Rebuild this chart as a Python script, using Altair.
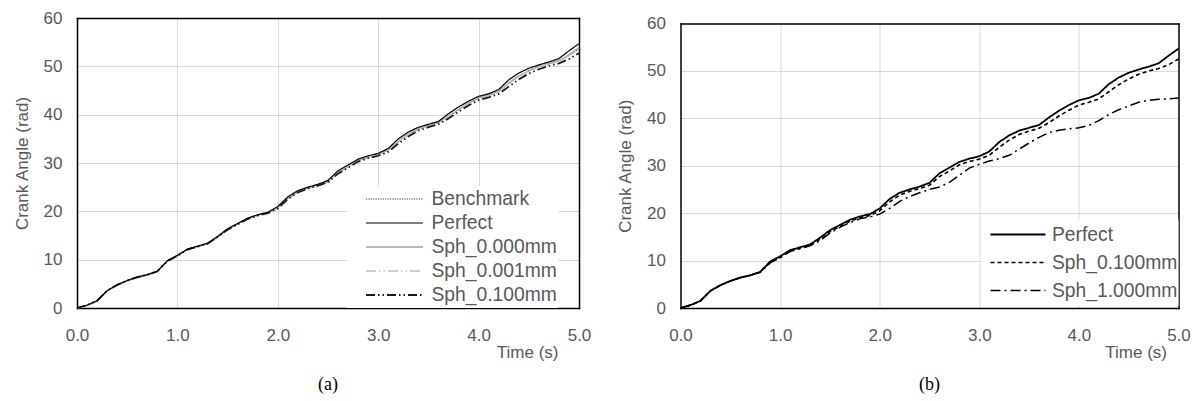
import altair as alt
import pandas as pd

FONT = "Liberation Sans"

time_s = [0.0, 0.1, 0.2, 0.3, 0.4, 0.5, 0.6, 0.7, 0.8, 0.9,
          1.0, 1.1, 1.2, 1.3, 1.4, 1.5, 1.6, 1.7, 1.8, 1.9,
          2.0, 2.1, 2.2, 2.3, 2.4, 2.5, 2.6, 2.7, 2.8, 2.9,
          3.0, 3.1, 3.2, 3.3, 3.4, 3.5, 3.6, 3.7, 3.8, 3.9,
          4.0, 4.1, 4.2, 4.3, 4.4, 4.5, 4.6, 4.7, 4.8, 4.9, 5.0]

perfect = [0, 0.6, 1.5, 3.6, 4.8, 5.7, 6.4, 6.9, 7.6, 9.8,
           10.9, 12.2, 12.8, 13.4, 14.8, 16.4, 17.5, 18.6, 19.3, 19.8,
           21.0, 23.0, 24.3, 25.0, 25.6, 26.4, 28.4, 29.6, 30.8, 31.5,
           32.0, 33.0, 35.0, 36.4, 37.4, 38.0, 38.6, 40.2, 41.6, 42.8,
           43.8, 44.3, 45.2, 47.2, 48.6, 49.6, 50.3, 50.9, 51.6, 53.2, 54.7]

benchmark = [0, 0.5, 1.4, 3.5, 4.7, 5.6, 6.3, 6.8, 7.5, 9.6,
             10.8, 12.0, 12.7, 13.3, 14.6, 16.2, 17.3, 18.5, 19.2, 19.7,
             20.7, 22.6, 24.0, 24.8, 25.4, 26.1, 28.0, 29.2, 30.5, 31.2,
             31.8, 32.6, 34.4, 35.9, 37.0, 37.7, 38.3, 39.6, 41.0, 42.3,
             43.4, 44.0, 44.7, 46.4, 47.9, 49.0, 49.9, 50.5, 51.1, 52.2, 53.6]

sph_000 = [0, 0.5, 1.4, 3.5, 4.7, 5.6, 6.3, 6.8, 7.5, 9.7,
           10.8, 12.1, 12.7, 13.3, 14.7, 16.3, 17.4, 18.5, 19.2, 19.7,
           20.8, 22.7, 24.1, 24.8, 25.4, 26.2, 28.1, 29.3, 30.6, 31.3,
           31.8, 32.7, 34.5, 36.0, 37.1, 37.8, 38.4, 39.7, 41.1, 42.4,
           43.5, 44.1, 44.8, 46.6, 48.0, 49.1, 50.0, 50.6, 51.2, 52.4, 53.9]

sph_001 = [0, 0.5, 1.4, 3.5, 4.7, 5.6, 6.3, 6.8, 7.5, 9.6,
           10.8, 12.1, 12.7, 13.3, 14.6, 16.2, 17.4, 18.5, 19.2, 19.6,
           20.7, 22.6, 24.0, 24.8, 25.3, 26.1, 28.0, 29.2, 30.5, 31.2,
           31.7, 32.6, 34.4, 35.9, 37.0, 37.7, 38.3, 39.6, 41.0, 42.3,
           43.4, 44.0, 44.7, 46.5, 47.9, 49.0, 49.9, 50.5, 51.1, 52.3, 53.8]

sph_100a = [0, 0.6, 1.5, 3.6, 4.8, 5.7, 6.4, 6.9, 7.6, 9.7,
            10.8, 12.1, 12.7, 13.3, 14.7, 16.2, 17.3, 18.4, 19.1, 19.6,
            20.6, 22.5, 23.9, 24.7, 25.3, 26.0, 27.8, 29.0, 30.3, 31.0,
            31.5, 32.3, 34.0, 35.5, 36.7, 37.4, 38.0, 39.2, 40.6, 41.9,
            43.0, 43.6, 44.3, 45.8, 47.3, 48.5, 49.4, 50.1, 50.6, 51.5, 52.7]

sph_100b = [0, 0.6, 1.5, 3.6, 4.8, 5.7, 6.4, 6.9, 7.6, 9.6,
            10.7, 12.1, 12.6, 13.2, 14.5, 16.1, 17.2, 18.3, 19.0, 19.5,
            20.5, 22.4, 23.8, 24.6, 25.2, 25.9, 27.7, 28.9, 30.2, 30.9,
            31.4, 32.2, 33.9, 35.4, 36.6, 37.3, 37.9, 39.1, 40.5, 41.7,
            42.8, 43.4, 44.1, 45.6, 47.1, 48.3, 49.3, 50.0, 50.5, 51.3, 52.5]

sph_1000 = [0, 0.6, 1.5, 3.6, 4.8, 5.7, 6.4, 6.9, 7.5, 9.5,
            10.6, 11.9, 12.5, 13.1, 14.2, 15.8, 17.0, 18.0, 18.8, 19.2,
            19.8, 21.0, 22.5, 23.5, 24.3, 25.0, 25.5, 26.5, 28.0, 29.5,
            30.3, 31.0, 31.5, 32.2, 33.5, 34.8, 36.0, 37.0, 37.5, 37.8,
            38.0, 38.5, 39.5, 40.8, 41.8, 42.6, 43.4, 43.8, 44.0, 44.1, 44.3]

x_ticks = [0, 1, 2, 3, 4, 5]
x_grid = [1, 2, 3, 4]
y_ticks = [0, 10, 20, 30, 40, 50, 60]
y_grid = [10, 20, 30, 40, 50]

left_names = ["Benchmark", "Perfect", "Sph_0.000mm", "Sph_0.001mm", "Sph_0.100mm"]
left_colors = ["#404040", "#000000", "#a6a6a6", "#bfbfbf", "#1a1a1a"]
left_dashes = [[1.2, 1.2], [1, 0], [1, 0], [10, 3, 1.5, 3, 1.5, 3], [9, 3, 1.5, 3, 1.5, 3]]
left_widths = [1.0, 1.8, 1.5, 1.5, 1.5]

right_names = ["Perfect", "Sph_0.100mm", "Sph_1.000mm"]
right_colors = ["#000000", "#000000", "#000000"]
right_dashes = [[1, 0], [4, 3], [10, 4, 2, 4]]
right_widths = [1.8, 1.5, 1.5]


def make_df(series):
    rows = []
    for name, vals in series:
        for t, v in zip(time_s, vals):
            rows.append({"t": t, "v": v, "s": name})
    return pd.DataFrame(rows)


df_a = make_df([("Benchmark", benchmark), ("Sph_0.000mm", sph_000),
                ("Sph_0.001mm", sph_001), ("Sph_0.100mm", sph_100a),
                ("Perfect", perfect)])
df_b = make_df([("Sph_1.000mm", sph_1000), ("Sph_0.100mm", sph_100b),
                ("Perfect", perfect)])

FRAME = dict(domain=True, domainColor="black", domainWidth=1.5, domainCap="square")
H = 290


def panel(df, names, colors, dashes, widths, w, top_gap, lx, ly, sym_len, sym_off,
          lab_off, clip_h, top_tick, title_gap, caption):
    x_axis = alt.Axis(values=x_ticks, format=".1f", title="Time (s)",
                      labelPadding=19, labelFlush=False, titleX=w - title_gap, titleY=44,
                      titleAlign="right", titleBaseline="middle", grid=False, **FRAME)
    y_axis = alt.Axis(values=y_ticks, title="Crank Angle (rad)",
                      labelPadding=15, titlePadding=12, grid=False, **FRAME)
    leg = alt.Legend(orient="none", legendX=lx, legendY=ly, title=None,
                     fillColor="white", padding=1, labelFontSize=19.3,
                     labelColor="#595959", labelFont=FONT,
                     symbolSize=sym_len * sym_len, symbolOffset=sym_off,
                     labelOffset=lab_off, clipHeight=clip_h, rowPadding=0,
                     symbolType="stroke", symbolStrokeWidth=1.5)
    xs = alt.Scale(domain=[0, 5], nice=False, zero=False)
    ys = alt.Scale(domain=[0, 60], nice=False, range=[H, top_gap])
    lines = alt.Chart(df).mark_line().encode(
        x=alt.X("t:Q", scale=xs, axis=x_axis),
        y=alt.Y("v:Q", scale=ys, axis=y_axis),
        color=alt.Color("s:N", scale=alt.Scale(domain=names, range=colors), legend=leg, sort=names),
        strokeDash=alt.StrokeDash("s:N", scale=alt.Scale(domain=names, range=dashes), legend=leg, sort=names),
        strokeWidth=alt.StrokeWidth("s:N", scale=alt.Scale(domain=names, range=widths), legend=None),
    )
    top_axis = dict(orient="top", values=x_grid, labels=False, grid=True,
                    title=None, offset=-top_gap, **FRAME)
    if top_tick > 0:
        top_axis.update(ticks=True, tickSize=top_tick, tickColor="white")
    else:
        top_axis.update(ticks=False)
    frame = alt.Chart(df).mark_line(opacity=0).encode(
        x=alt.X("t:Q", scale=xs, axis=alt.Axis(**top_axis)),
        y=alt.Y("v:Q", scale=ys,
                axis=alt.Axis(orient="right", values=y_grid, labels=False, grid=True,
                              ticks=False, title=None, **FRAME)),
        detail="s:N",
    )
    return alt.layer(frame, lines).resolve_axis(x="independent", y="independent").properties(
        width=w, height=H,
        title=alt.TitleParams(caption, orient="bottom", anchor="middle", frame="group",
                              font="Liberation Serif", fontSize=18, color="black",
                              fontWeight="normal", offset=16))


left = panel(df_a, left_names, left_colors, left_dashes, left_widths,
             502, 0, 270, 168, 57, 17, 7.5, 24, 9, 21, "(a)")
right = panel(df_b, right_names, right_colors, right_dashes, right_widths,
              498, 5.5, 302, 201.75, 55, 6, 5.5, 27.5, 0, 12, "(b)")

chart = alt.concat(left, right, columns=2, spacing=23.5).resolve_scale(
    color="independent", strokeDash="independent", strokeWidth="independent"
).properties(
    padding={"left": 4, "top": 0, "right": 0, "bottom": 0}
).configure_view(stroke="transparent").configure_axis(
    labelFont=FONT, labelFontSize=17, labelColor="#595959",
    titleFont=FONT, titleFontSize=17, titleColor="#595959", titleFontWeight="normal",
    gridColor="#d9d9d9", gridWidth=1, ticks=False)

chart.save("out.html", embed_options={"renderer": "svg", "actions": False})
